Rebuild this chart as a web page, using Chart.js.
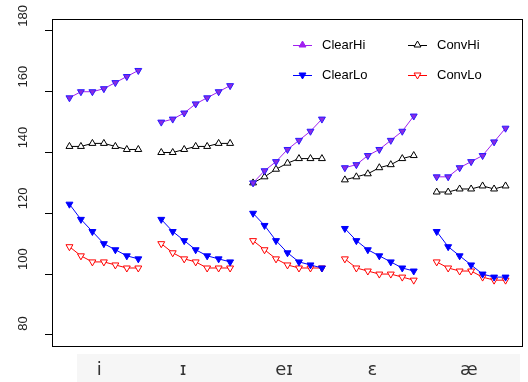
<!DOCTYPE html>
<html>
<head>
<meta charset="utf-8">
<script src="https://cdn.jsdelivr.net/npm/chart.js@4/dist/chart.umd.min.js"></script>
<style>
html, body { margin: 0; padding: 0; background: #fff; }
</style>
</head>
<body>
<canvas id="myChart" width="528" height="382"></canvas>
<script>
'use strict'

// vowel categories and where their labels sit (in point-index units)
var vowels = ['i', 'ɪ', 'eɪ', 'ɛ', 'æ'];
var vowelPos = [2.6, 9.9, 18.7, 26.4, 34.8];
var yTicks = [80, 100, 120, 140, 160, 180];

// 7 time points per vowel, one row per vowel
var clearHi = [
    [158, 160, 160, 161, 163, 165, 167],
    [150, 151, 153, 156, 158, 160, 162],
    [130, 134, 137, 141, 144, 147, 151],
    [135, 136, 139, 141, 144, 147, 152],
    [132, 132, 135, 137, 139, 143.5, 148]
];
var convHi = [
    [142, 142, 143, 143, 142, 141, 141],
    [140, 140, 141, 142, 142, 143, 143],
    [130, 132, 134.5, 136.5, 138, 138, 138],
    [131, 132, 133, 135, 136, 138, 139],
    [127, 127, 128, 128, 129, 128, 129]
];
var clearLo = [
    [123, 118, 114, 110, 108, 106, 105],
    [118, 114, 111, 108, 106, 105, 104],
    [120, 116, 111, 107, 104, 103, 102],
    [115, 111, 108, 106, 104, 102, 101],
    [114, 109, 106, 103, 100, 99, 99]
];
var convLo = [
    [109, 106, 104, 104, 103, 102, 102],
    [110, 107, 105, 104, 102, 102, 102],
    [111, 108, 105, 103, 102, 102, 102],
    [105, 102, 101, 100, 100, 99, 98],
    [104, 102, 101, 101, 99, 98, 98]
];

function toPoints(groups) {
    var pts = [];
    groups.forEach(function (vals, g) {
        vals.forEach(function (v, j) {
            pts.push({x: g * 8 + j, y: v});
        });
        pts.push({x: g * 8 + 7, y: null}); // break the line between vowels
    });
    return pts;
}

var series = [
    {label: 'ClearHi', data: clearHi, line: '#A020F0', fill: '#8A2BE2', edge: '#2a1aff', down: true, legendDown: false, legendFill: '#A020F0', legendEdge: '#A020F0'},
    {label: 'ConvHi', data: convHi, line: '#000000', fill: '#ffffff', edge: '#000000', down: false, legendDown: false, legendFill: '#ffffff', legendEdge: '#000000'},
    {label: 'ClearLo', data: clearLo, line: '#0000FF', fill: '#0000FF', edge: '#0000FF', down: true, legendDown: true, legendFill: '#0000FF', legendEdge: '#0000FF'},
    {label: 'ConvLo', data: convLo, line: '#FF0000', fill: '#ffffff', edge: '#FF0000', down: true, legendDown: true, legendFill: '#ffffff', legendEdge: '#FF0000'}
];

var datasets = series.map(function (s) {
    return {
        label: s.label,
        data: toPoints(s.data),
        borderColor: s.line,
        borderWidth: 1,
        pointStyle: 'triangle',
        pointRotation: s.down ? 180 : 0,
        pointRadius: 4,
        pointBorderWidth: 1,
        pointBackgroundColor: s.fill,
        pointBorderColor: s.edge,
        spanGaps: false,
        tension: 0
    };
});

function drawTri(ctx, x, y, r, down, fill, stroke) {
    var d = down ? -1 : 1;
    ctx.beginPath();
    ctx.moveTo(x, y - d * r);
    ctx.lineTo(x + r * 0.866, y + d * r * 0.5);
    ctx.lineTo(x - r * 0.866, y + d * r * 0.5);
    ctx.closePath();
    ctx.fillStyle = fill;
    ctx.fill();
    ctx.strokeStyle = stroke;
    ctx.lineWidth = 1;
    ctx.stroke();
}

var boxAndLegend = {
    id: 'boxAndLegend',
    beforeDraw: function (chart) {
        var ctx = chart.ctx;
        ctx.save();
        ctx.fillStyle = '#f6f6f6';
        ctx.fillRect(77, 354, 443, 28);
        ctx.restore();
    },
    afterDraw: function (chart) {
        var ctx = chart.ctx;
        var a = chart.chartArea;
        ctx.save();
        ctx.strokeStyle = '#000';
        ctx.lineWidth = 1;
        ctx.strokeRect(Math.round(a.left) + 0.5, Math.round(a.top) + 0.5,
            Math.round(a.right - a.left) - 1, Math.round(a.bottom - a.top) - 1);

        var cols = [293, 408];
        var rows = [45, 75];
        ctx.font = '13px "Liberation Sans", Arial, sans-serif';
        ctx.textBaseline = 'middle';
        ctx.textAlign = 'left';
        series.forEach(function (s, i) {
            var x = cols[i % 2];
            var y = rows[Math.floor(i / 2)];
            ctx.beginPath();
            ctx.moveTo(x, y + 0.5);
            ctx.lineTo(x + 19, y + 0.5);
            ctx.strokeStyle = s.line;
            ctx.lineWidth = 1;
            ctx.stroke();
            drawTri(ctx, x + 9.5, y, 4, s.legendDown, s.legendFill, s.legendEdge);
            ctx.fillStyle = '#000';
            ctx.fillText(s.label, x + 29, y);
        });
        ctx.restore();
    }
};

var ctx = document.getElementById('myChart').getContext('2d');

var myChart = new Chart(ctx, {
    type: 'line',
    data: {datasets: datasets},
    plugins: [boxAndLegend],
    options: {
        responsive: false,
        animation: false,
        layout: {padding: {top: 16, right: 1, left: 0, bottom: 0}},
        plugins: {
            legend: {display: false},
            tooltip: {enabled: false}
        },
        scales: {
            x: {
                type: 'linear',
                min: -1.52,
                max: 39.52,
                afterBuildTicks: function (scale) {
                    scale.ticks = vowelPos.map(function (v) { return {value: v}; });
                },
                afterFit: function (scale) { scale.height = 35; },
                grid: {display: false, drawTicks: false},
                border: {display: false},
                ticks: {
                    autoSkip: false,
                    maxRotation: 0,
                    padding: 13,
                    color: '#333',
                    font: {family: '"DejaVu Sans", sans-serif', size: 18},
                    callback: function (v, i) { return vowels[i]; }
                }
            },
            y: {
                type: 'linear',
                min: 76,
                max: 184,
                afterBuildTicks: function (scale) {
                    scale.ticks = yTicks.map(function (v) { return {value: v}; });
                },
                afterFit: function (scale) { scale.width = 52; },
                grid: {display: true, drawOnChartArea: false, drawTicks: true, tickLength: 7, color: '#000', lineWidth: 1},
                border: {display: false},
                ticks: {
                    minRotation: 90,
                    maxRotation: 90,
                    crossAlign: 'center',
                    padding: 11,
                    labelOffset: -15,
                    color: '#222',
                    font: {family: '"Liberation Sans", Arial, sans-serif', size: 13},
                    // pad 2-digit labels so they start just above the tick like the 3-digit ones
                    callback: function (v) { return v < 100 ? v + '\u2007' : String(v); }
                }
            }
        }
    }
});
</script>
</body>
</html>
